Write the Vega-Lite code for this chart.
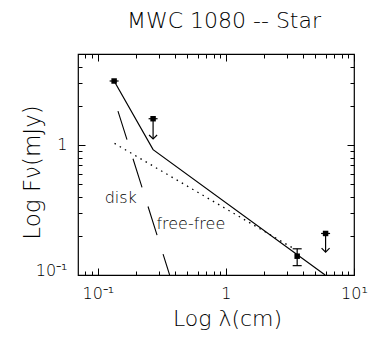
{
  "$schema": "https://vega.github.io/schema/vega-lite/v6.json",
  "width": 276,
  "height": 221,
  "autosize": "none",
  "padding": {"left": 78, "top": 54, "right": 18, "bottom": 70},
  "background": "white",
  "title": {
    "text": "MWC 1080 -- Star",
    "font": "DejaVu Sans",
    "fontSize": 22,
    "fontWeight": 200,
    "color": "black",
    "anchor": "middle",
    "dx": 8,
    "offset": 4,
    "baseline": "alphabetic"
  },
  "config": {
    "font": "DejaVu Sans",
    "view": {"stroke": "black", "strokeWidth": 1.2},
    "axis": {
      "domain": false,
      "grid": false,
      "ticks": true,
      "tickColor": "black",
      "tickWidth": 1,
      "tickOpacity": 1,
      "labelColor": "black",
      "titleColor": "black",
      "labelFont": "DejaVu Sans",
      "titleFont": "DejaVu Sans",
      "labelFontWeight": 200,
      "titleFontWeight": 200,
      "zindex": 1
    }
  },
  "datasets": {
    "solid": [
      {"lam": 0.134, "flux": 3.1},
      {"lam": 0.27, "flux": 0.92},
      {"lam": 5.95, "flux": 0.1}
    ],
    "freefree": [
      {"lam": 0.135, "flux": 1.027},
      {"lam": 3.3, "flux": 0.162}
    ],
    "disk": [
      {"lam": 0.1436, "flux": 1.82},
      {"lam": 0.3635, "flux": 0.1}
    ],
    "points": [
      {"lam": 0.134, "flux": 3.1},
      {"lam": 0.27, "flux": 1.59},
      {"lam": 3.6, "flux": 0.1395},
      {"lam": 6.0, "flux": 0.2086}
    ],
    "limits": [
      {"lam": 0.27, "flux": 1.59, "tip": 1.11},
      {"lam": 6.0, "flux": 0.2086, "tip": 0.15}
    ],
    "errbar": [
      {"lam": 3.6, "lo": 0.118, "hi": 0.159}
    ],
    "caps": [
      {"lam": 0.134, "flux": 3.1},
      {"lam": 0.27, "flux": 1.59},
      {"lam": 6.0, "flux": 0.2086},
      {"lam": 3.6, "flux": 0.118},
      {"lam": 3.6, "flux": 0.159}
    ],
    "labels": [
      {"lam": 0.113, "flux": 0.359, "text": "disk"},
      {"lam": 0.2866, "flux": 0.224, "text": "free-free"}
    ]
  },
  "layer": [
    {
      "data": {"name": "solid"},
      "mark": {"type": "line", "color": "black", "strokeWidth": 1.2, "clip": true},
      "encoding": {
        "x": {
          "field": "lam", "type": "quantitative",
          "scale": {"type": "log", "domain": [0.07, 10], "nice": false},
          "axis": {
            "orient": "bottom",
            "offset": -7,
            "values": [0.1, 1, 10],
            "tickSize": 7,
            "labelExpr": "datum.value < 0.5 ? '10⁻¹' : (datum.value > 5 ? '10¹' : '1')",
            "labelFontSize": 16,
            "labelPadding": 10,
            "labelFlush": false,
            "labelOverlap": false,
            "labelBound": false,
            "title": "Log λ(cm)",
            "titleFontSize": 22,
            "titleX": 149,
            "titleY": 57,
            "titleAlign": "center",
            "titleBaseline": "alphabetic"
          }
        },
        "y": {
          "field": "flux", "type": "quantitative",
          "scale": {"type": "log", "domain": [0.1, 5], "nice": false},
          "axis": {
            "orient": "left",
            "offset": -7,
            "values": [0.1, 1],
            "tickSize": 7,
            "labelExpr": "datum.value < 0.5 ? '10⁻¹' : '1'",
            "labelFontSize": 16,
            "labelPadding": 11,
            "labelAlign": "right",
            "labelBaseline": {"condition": {"test": "datum.value < 0.5", "value": "alphabetic"}, "value": "middle"},
            "labelFlush": false,
            "labelOverlap": false,
            "labelBound": false,
            "title": "Log Fν(mJy)",
            "titleFontSize": 23,
            "titleAngle": -90,
            "titleX": -46,
            "titleY": 118,
            "titleAlign": "center",
            "titleBaseline": "alphabetic"
          }
        }
      }
    },
    {
      "data": {"name": "freefree"},
      "mark": {"type": "line", "color": "black", "strokeWidth": 1.3, "strokeDash": [1.5, 4.5], "clip": true},
      "encoding": {
        "x": {
          "field": "lam", "type": "quantitative",
          "scale": {"type": "log", "domain": [0.07, 10], "nice": false},
          "axis": {
            "orient": "bottom",
            "offset": -4,
            "values": [0.08, 0.09, 0.2, 0.3, 0.4, 0.5, 0.6, 0.7, 0.8, 0.9, 2, 3, 4, 5, 6, 7, 8, 9],
            "tickSize": 4,
            "labels": false,
            "title": null
          }
        },
        "y": {
          "field": "flux", "type": "quantitative",
          "scale": {"type": "log", "domain": [0.1, 5], "nice": false},
          "axis": {
            "orient": "left",
            "offset": -4,
            "values": [0.2, 0.3, 0.4, 0.5, 0.6, 0.7, 0.8, 0.9, 2, 3, 4],
            "tickSize": 4,
            "labels": false,
            "title": null
          }
        }
      }
    },
    {
      "data": {"name": "disk"},
      "mark": {"type": "line", "color": "black", "strokeWidth": 1.1, "strokeDash": [30, 20], "clip": true},
      "encoding": {
        "x": {
          "field": "lam", "type": "quantitative",
          "scale": {"type": "log", "domain": [0.07, 10], "nice": false},
          "axis": {
            "orient": "top",
            "offset": -7,
            "values": [0.1, 1, 10],
            "tickSize": 7,
            "labels": false,
            "title": null
          }
        },
        "y": {
          "field": "flux", "type": "quantitative",
          "scale": {"type": "log", "domain": [0.1, 5], "nice": false},
          "axis": {
            "orient": "right",
            "offset": -7,
            "values": [0.1, 1],
            "tickSize": 7,
            "labels": false,
            "title": null
          }
        }
      }
    },
    {
      "data": {"name": "points"},
      "mark": {"type": "point", "shape": "square", "filled": true, "color": "black", "size": 30, "opacity": 1},
      "encoding": {
        "x": {
          "field": "lam", "type": "quantitative",
          "scale": {"type": "log", "domain": [0.07, 10], "nice": false},
          "axis": {
            "orient": "top",
            "offset": -4,
            "values": [0.08, 0.09, 0.2, 0.3, 0.4, 0.5, 0.6, 0.7, 0.8, 0.9, 2, 3, 4, 5, 6, 7, 8, 9],
            "tickSize": 4,
            "labels": false,
            "title": null
          }
        },
        "y": {
          "field": "flux", "type": "quantitative",
          "scale": {"type": "log", "domain": [0.1, 5], "nice": false},
          "axis": {
            "orient": "right",
            "offset": -4,
            "values": [0.2, 0.3, 0.4, 0.5, 0.6, 0.7, 0.8, 0.9, 2, 3, 4],
            "tickSize": 4,
            "labels": false,
            "title": null
          }
        }
      }
    },
    {
      "data": {"name": "caps"},
      "mark": {"type": "tick", "orient": "horizontal", "color": "black", "size": 9, "thickness": 1.2, "opacity": 1},
      "encoding": {
        "x": {"field": "lam", "type": "quantitative", "scale": {"type": "log", "domain": [0.07, 10], "nice": false}, "axis": null},
        "y": {"field": "flux", "type": "quantitative", "scale": {"type": "log", "domain": [0.1, 5], "nice": false}, "axis": null}
      }
    },
    {
      "data": {"name": "limits"},
      "mark": {"type": "rule", "color": "black", "strokeWidth": 1.2},
      "encoding": {
        "x": {"field": "lam", "type": "quantitative", "scale": {"type": "log", "domain": [0.07, 10], "nice": false}, "axis": null},
        "y": {"field": "flux", "type": "quantitative", "scale": {"type": "log", "domain": [0.1, 5], "nice": false}, "axis": null},
        "y2": {"field": "tip"}
      }
    },
    {
      "data": {"name": "limits"},
      "mark": {"type": "point", "shape": "M-1,-1L0,0L1,-1", "filled": false, "color": "black", "size": 64, "strokeWidth": 1.2, "opacity": 1},
      "encoding": {
        "x": {"field": "lam", "type": "quantitative", "scale": {"type": "log", "domain": [0.07, 10], "nice": false}, "axis": null},
        "y": {"field": "tip", "type": "quantitative", "scale": {"type": "log", "domain": [0.1, 5], "nice": false}, "axis": null}
      }
    },
    {
      "data": {"name": "errbar"},
      "mark": {"type": "rule", "color": "black", "strokeWidth": 1.2},
      "encoding": {
        "x": {"field": "lam", "type": "quantitative", "scale": {"type": "log", "domain": [0.07, 10], "nice": false}, "axis": null},
        "y": {"field": "lo", "type": "quantitative", "scale": {"type": "log", "domain": [0.1, 5], "nice": false}, "axis": null},
        "y2": {"field": "hi"}
      }
    },
    {
      "data": {"name": "labels"},
      "mark": {"type": "text", "align": "left", "baseline": "alphabetic", "fontSize": 16, "font": "DejaVu Sans", "fontWeight": 200, "color": "black"},
      "encoding": {
        "x": {"field": "lam", "type": "quantitative", "scale": {"type": "log", "domain": [0.07, 10], "nice": false}, "axis": null},
        "y": {"field": "flux", "type": "quantitative", "scale": {"type": "log", "domain": [0.1, 5], "nice": false}, "axis": null},
        "text": {"field": "text"}
      }
    }
  ],
  "resolve": {"axis": {"x": "independent", "y": "independent"}}
}
